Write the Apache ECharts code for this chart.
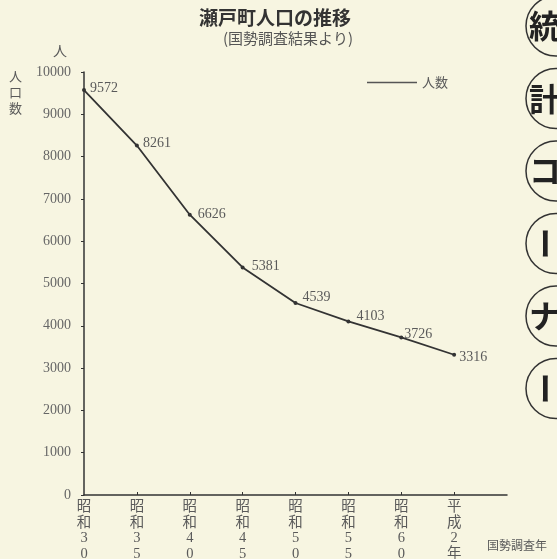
<!DOCTYPE html>
<html><head><meta charset="utf-8">
<script src="https://cdn.jsdelivr.net/npm/echarts@6/dist/echarts.min.js"></script>
<style>html,body{margin:0;padding:0;background:#f7f5e1}#c{width:557px;height:559px}</style>
</head><body><div id="c"></div>
<script>
// ---- data ----
const categories = ['昭和30年','昭和35年','昭和40年','昭和45年','昭和50年','昭和55年','昭和60年','平成2年',''];
const population = [9572, 8261, 6626, 5381, 4539, 4103, 3726, 3316];
const yTickValues = [0,1000,2000,3000,4000,5000,6000,7000,8000,9000,10000];
const seriesName = '人数';
const titleText = '瀬戸町人口の推移';
const subTitleText = '(国勢調査結果より)';
const yUnit = '人';
const yName = '人口数';
const xName = '国勢調査年';
const cornerChars = ['統','計','コ','ー','ナ','ー'];

// ---- style (not data) ----
const labelOffsets = [[4,-2],[4,-2],[6,0],[7,-1],[5,-6],[6,-5],[1,-3],[3,3]];
const SERIF = 'Liberation Serif, Noto Sans CJK JP';
const GOTHIC = 'Noto Sans CJK JP';
const INK = '#333333';
const TXT = '#5a5a5a';

const chart = echarts.init(document.getElementById('c'), null, {renderer:'canvas'});

const seriesData = population.map((v, i) => ({
  value: v,
  label: { offset: labelOffsets[i] }
}));

const graphics = [
  { type:'text', left: 53, top: 44, style:{ text: yUnit, font: '14px ' + GOTHIC, fill: TXT } },
  { type:'text', left: 9, top: 68, style:{ text: yName.split('').join('\n'), font: '13px ' + GOTHIC, fill: TXT, lineHeight: 16 } },
  { type:'text', left: 487, top: 539, style:{ text: xName, font: '12px ' + GOTHIC, fill: TXT } }
];
const cy0 = 26, cstep = 72.5;
cornerChars.forEach((ch, i) => {
  const cy = cy0 + i * cstep;
  graphics.push({ type:'circle', shape:{ cx: 556, cy: cy, r: 30 }, style:{ fill:'none', stroke:'#333', lineWidth:1.5 } });
  graphics.push({ type:'text', x: 545, y: cy, rotation: ch === 'ー' ? -Math.PI/2 : 0,
    style:{ text: ch, font: 'bold 32px ' + GOTHIC, fill:'#222', align:'center', verticalAlign:'middle' } });
});

chart.setOption({
  backgroundColor: '#f7f5e1',
  animation: false,
  title: [
    { text: titleText, left: 199, top: 8, padding: 0,
      textStyle: { fontFamily: GOTHIC, fontSize: 19, fontWeight: 'bold', color: '#333' } },
    { text: subTitleText, left: 223, top: 31, padding: 0,
      textStyle: { fontFamily: GOTHIC, fontSize: 15, fontWeight: 'normal', color: '#555' } }
  ],
  legend: {
    data: [seriesName], left: 367, top: 76, padding: 0,
    icon: 'rect', itemWidth: 50, itemHeight: 1.5,
    itemStyle: { color: '#555' },
    textStyle: { fontFamily: GOTHIC, fontSize: 13, color: TXT }
  },
  grid: { left: 84, right: 50, top: 72, bottom: 64, containLabel: false, outerBoundsMode: 'none' },
  xAxis: {
    type: 'category', data: categories, boundaryGap: false,
    axisLine: { lineStyle: { color: INK, width: 1.5 } },
    axisTick: { show: true, inside: true, length: 3, lineStyle: { color: INK },
      interval: (idx) => idx > 0 && idx < population.length },
    axisLabel: {
      interval: 0, margin: 4, color: TXT, fontFamily: SERIF, fontSize: 14.5, lineHeight: 15.8,
      verticalAlign: 'top',
      formatter: (v) => v.split('').join('\n')
    },
    splitLine: { show: false }
  },
  yAxis: {
    type: 'value', min: yTickValues[0], max: yTickValues[yTickValues.length-1],
    interval: yTickValues[1] - yTickValues[0],
    axisLine: { show: true, lineStyle: { color: INK, width: 1.5 } },
    axisTick: { show: true, length: 3, lineStyle: { color: INK } },
    axisLabel: { margin: 13, color: '#666', fontFamily: SERIF, fontSize: 14,
      formatter: (v) => String(v) },
    splitLine: { show: false }
  },
  series: [{
    name: seriesName, type: 'line', data: seriesData,
    symbol: 'circle', symbolSize: 4,
    itemStyle: { color: INK },
    lineStyle: { color: INK, width: 1.8 },
    label: { show: true, position: 'right', distance: 0, color: TXT,
      fontFamily: SERIF, fontSize: 14, formatter: (p) => String(p.value) },
    emphasis: { disabled: true }
  }],
  graphic: graphics
});
</script></body></html>
